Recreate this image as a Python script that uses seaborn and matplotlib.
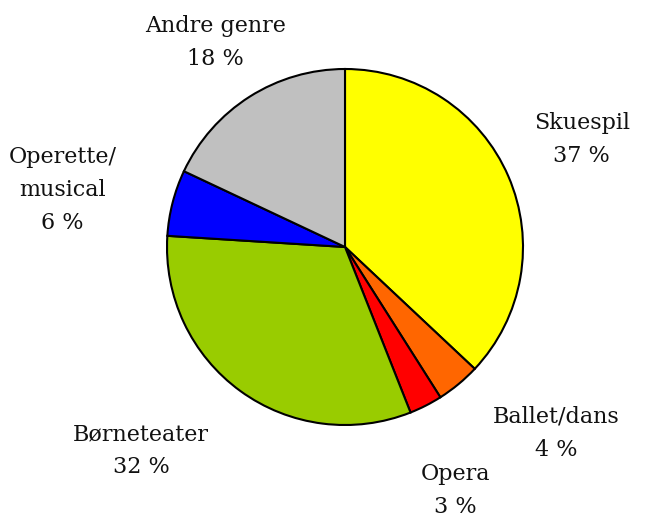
import numpy as np
import matplotlib
matplotlib.use("Agg")
import matplotlib.pyplot as plt
import seaborn as sns

genres = ["Skuespil", "Ballet/dans", "Opera", "Børneteater", "Operette/\nmusical", "Andre genre"]
shares = [37, 4, 3, 32, 6, 18]
colors = ["#FFFF00", "#FF6600", "#FF0000", "#99CC00", "#0000FF", "#C0C0C0"]

# label placement (radius factor, angle shift in degrees)
label_r = [1.46, 1.58, 1.50, 1.62, 1.62, 1.36]
label_shift = [1, 9, -2.6, -9, 3, 0]

sns.set_theme(style="white")
plt.rcParams["font.family"] = ["DejaVu Serif"]

fig = plt.figure(figsize=(6.47, 5.22), dpi=100)
ax = fig.add_axes([0, 0, 1, 1])

wedges, _ = ax.pie(shares, colors=colors, startangle=90, counterclock=False,
                   wedgeprops=dict(edgecolor="black", linewidth=1.5))

for w, name, val, r, sh in zip(wedges, genres, shares, label_r, label_shift):
    ang = np.deg2rad((w.theta1 + w.theta2) / 2 + sh)
    ax.text(r * np.cos(ang), r * np.sin(ang), f"{name}\n{val} %",
            ha="center", va="center", fontsize=16, linespacing=1.65, color="#111111")

R = 178
ax.set_xlim(-345 / R, (647 - 345) / R)
ax.set_ylim(-(522 - 247) / R, 247 / R)
ax.set_aspect("equal")
ax.axis("off")

fig.savefig("out.png", dpi=100)
